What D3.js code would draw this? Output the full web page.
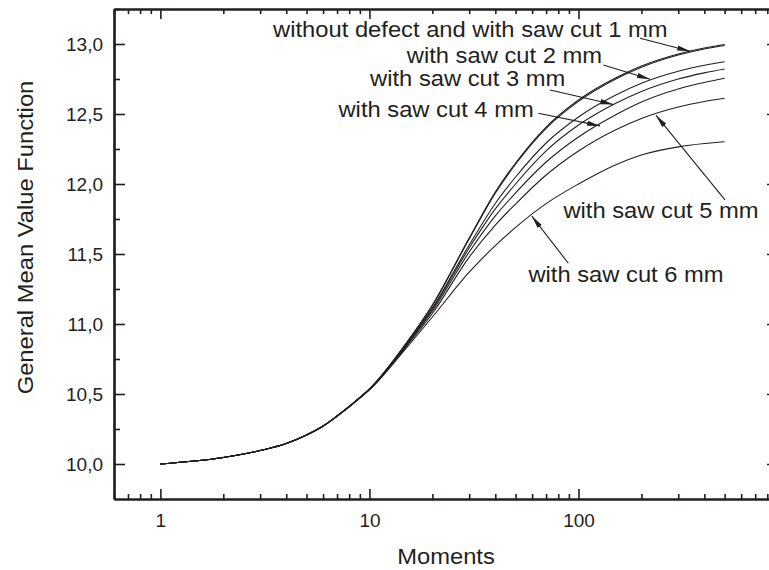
<!DOCTYPE html>
<html>
<head>
<meta charset="utf-8">
<script src="https://d3js.org/d3.v7.min.js"></script>
<style>
  body { margin: 0; background: #fff; }
  svg { display: block; font-family: "Liberation Sans", Arial, sans-serif; }
  .axis path, .axis line { stroke: #231f20; }
  .axis text { fill: #231f20; font-size: 19px; font-family: "Liberation Sans", Arial, sans-serif; }
</style>
</head>
<body>
<svg id="chart" width="769" height="570"></svg>
<script>
// moments (x) and mean value function for each specimen
var moments = [1, 2, 3, 4, 5, 6, 7, 8, 9, 10, 15, 20, 30, 40, 50, 70, 100, 150, 200, 300, 400, 500];
var noDefect = [10.000, 10.046, 10.096, 10.146, 10.207, 10.271, 10.343, 10.411, 10.475, 10.536, 10.864, 11.136, 11.614, 11.943, 12.150, 12.407, 12.600, 12.757, 12.843, 12.929, 12.971, 12.996];
var cut1 = [10.000, 10.046, 10.096, 10.146, 10.207, 10.271, 10.343, 10.411, 10.475, 10.536, 10.862, 11.132, 11.608, 11.935, 12.141, 12.397, 12.590, 12.748, 12.834, 12.921, 12.964, 12.989];
var cut2 = [10.000, 10.046, 10.096, 10.146, 10.207, 10.271, 10.343, 10.411, 10.474, 10.535, 10.855, 11.115, 11.564, 11.861, 12.050, 12.293, 12.479, 12.634, 12.720, 12.806, 12.848, 12.873];
var cut3 = [10.000, 10.046, 10.096, 10.146, 10.207, 10.271, 10.343, 10.410, 10.474, 10.534, 10.850, 11.104, 11.543, 11.822, 12.000, 12.236, 12.421, 12.575, 12.661, 12.750, 12.794, 12.821];
var cut4 = [10.000, 10.046, 10.096, 10.146, 10.207, 10.271, 10.343, 10.410, 10.473, 10.533, 10.846, 11.093, 11.514, 11.772, 11.936, 12.157, 12.336, 12.493, 12.586, 12.679, 12.725, 12.755];
var cut5 = [10.000, 10.046, 10.096, 10.146, 10.207, 10.271, 10.342, 10.409, 10.472, 10.532, 10.839, 11.075, 11.478, 11.707, 11.857, 12.064, 12.236, 12.386, 12.468, 12.550, 12.589, 12.612];
var cut6 = [10.000, 10.046, 10.096, 10.146, 10.207, 10.270, 10.341, 10.408, 10.470, 10.529, 10.828, 11.050, 11.370, 11.560, 11.690, 11.860, 12.000, 12.136, 12.207, 12.265, 12.289, 12.302];

var series = [noDefect, cut1, cut2, cut3, cut4, cut5, cut6];

var xMajor = [1, 10, 100];
var yMajor = [10.0, 10.5, 11.0, 11.5, 12.0, 12.5, 13.0];
var yMinor = [10.25, 10.75, 11.25, 11.75, 12.25, 12.75, 13.25];

// labels with arrows, in data units: [text, labelX, labelY, fromX, fromY, tipX, tipY]
var notes = [
  ["without defect and with saw cut 1 mm", 3.46, 13.05, 197, 13.041, 342, 12.948],
  ["with saw cut 2 mm", 15.09, 12.862, 131.5, 12.85, 219.8, 12.748],
  ["with saw cut 3 mm", 10.07, 12.70, 73.1, 12.671, 146.8, 12.568],
  ["with saw cut 4 mm", 7.11, 12.476, 64.3, 12.505, 126.8, 12.415],
  ["with saw cut 5 mm", 84.7, 11.755, 502, 11.886, 235, 12.49],
  ["with saw cut 6 mm", 57.6, 11.302, 89.4, 11.434, 59.8, 11.77]
];

var svg = d3.select("svg"),
  margin = { top: 9, left: 114, bottom: 71 },
  width = 664,
  height = +svg.attr("height") - margin.top - margin.bottom;

var x = d3.scaleLog().domain([0.6, 900]).range([margin.left, margin.left + width]),
  y = d3.scaleLinear().domain([9.75, 13.25]).range([margin.top + height, margin.top]);

var xMinor = x.ticks().filter(function (d) { return xMajor.indexOf(d) < 0; });
var comma = function (d) { return d3.format(".1f")(d).replace(".", ","); };

svg.append("defs").append("marker")
  .attr("id", "head")
  .attr("markerUnits", "userSpaceOnUse")
  .attr("viewBox", "0 -3 13 6")
  .attr("refX", 13)
  .attr("refY", 0)
  .attr("markerWidth", 13)
  .attr("markerHeight", 6)
  .attr("orient", "auto")
  .append("path")
  .attr("d", "M0,-2.6L13,0L0,2.6Z")
  .attr("fill", "#231f20");

// curves
var line = d3.line()
  .x(function (d, i) { return x(moments[i]); })
  .y(function (d) { return y(d); })
  .curve(d3.curveMonotoneX);

svg.append("g")
  .selectAll("path")
  .data(series)
  .enter()
  .append("path")
  .attr("d", line)
  .attr("fill", "none")
  .attr("stroke", "#231f20")
  .attr("stroke-width", 1.1);

// axes, ticks pointing inside
function addAxis(axis, tx, ty, cls) {
  return svg.append("g")
    .attr("class", "axis " + cls)
    .attr("transform", "translate(" + tx + "," + ty + ")")
    .call(axis);
}
var bottom = margin.top + height, right = margin.left + width;

addAxis(d3.axisBottom(x).tickValues(xMinor).tickSize(-5).tickSizeOuter(0).tickFormat(""), 0, bottom, "minor");
addAxis(d3.axisBottom(x).tickValues(xMajor).tickSize(-10).tickSizeOuter(0).tickPadding(14.5).tickFormat(d3.format("d")), 0, bottom, "major");
addAxis(d3.axisTop(x).tickValues(xMinor).tickSize(-5).tickSizeOuter(0).tickFormat(""), 0, margin.top, "minor");
addAxis(d3.axisTop(x).tickValues(xMajor).tickSize(-10).tickSizeOuter(0).tickFormat(""), 0, margin.top, "major");
addAxis(d3.axisLeft(y).tickValues(yMinor).tickSize(-6).tickSizeOuter(0).tickFormat(""), margin.left, 0, "minor");
addAxis(d3.axisLeft(y).tickValues(yMajor).tickSize(-11).tickSizeOuter(0).tickPadding(11).tickFormat(comma), margin.left, 0, "major");
addAxis(d3.axisRight(y).tickValues(yMinor).tickSize(-6).tickSizeOuter(0).tickFormat(""), right, 0, "minor");
addAxis(d3.axisRight(y).tickValues(yMajor).tickSize(-11).tickSizeOuter(0).tickFormat(""), right, 0, "major");

svg.selectAll(".axis path").attr("stroke-width", 2.2);
svg.selectAll(".axis line").attr("stroke-width", 1.6);
svg.selectAll(".axis text").attr("dy", function () {
  return d3.select(this.parentNode.parentNode).attr("transform").indexOf("translate(0,") === 0 ? "0.71em" : "0.34em";
});

// text helper, glyphs slightly widened like the source
function label(px, py, str, size, anchor, rot) {
  svg.append("text")
    .attr("transform", "translate(" + px + "," + py + ")" + (rot ? " rotate(" + rot + ")" : "") + " scale(1.08,1)")
    .attr("text-anchor", anchor)
    .attr("font-size", size)
    .attr("fill", "#231f20")
    .text(str);
}

label(446, 564, "Moments", 22, "middle");
label(33, 237.5, "General Mean Value Function", 22, "middle", -90);

notes.forEach(function (n) {
  label(x(n[1]), y(n[2]), n[0], 22, "start");
  svg.append("line")
    .attr("x1", x(n[3])).attr("y1", y(n[4]))
    .attr("x2", x(n[5])).attr("y2", y(n[6]))
    .attr("stroke", "#231f20")
    .attr("stroke-width", 1.1)
    .attr("marker-end", "url(#head)");
});
</script>
</body>
</html>
